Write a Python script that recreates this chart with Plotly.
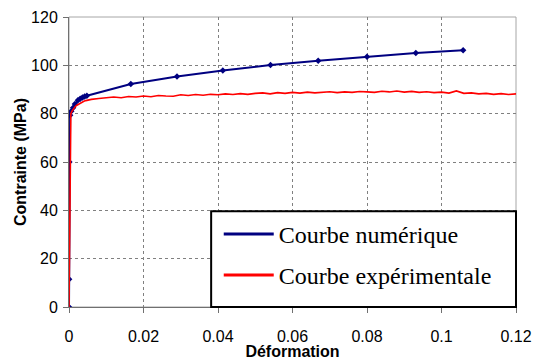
import plotly.graph_objects as go

# Courbe numérique (points de calcul)
num_x = [0, 0.00003, 0.0001, 0.0003, 0.0006, 0.0011, 0.0016, 0.0024, 0.0030, 0.0036,
         0.0042, 0.0048, 0.0166, 0.0290, 0.0413, 0.0541, 0.0669, 0.0800, 0.0931, 0.1058]
num_y = [0, 11.5, 60, 79.3, 81.0, 82.4, 84.0, 85.6, 86.2, 86.7,
         87.1, 87.4, 92.3, 95.4, 97.9, 100.1, 101.9, 103.6, 105.1, 106.2]

# Courbe expérimentale
exp_x = [0, 0.00005, 0.0001, 0.0002, 0.0003, 0.0005, 0.0008, 0.0012, 0.0016, 0.002,
         0.0025, 0.003, 0.0035, 0.004, 0.0045, 0.005,
         0.006, 0.008, 0.010, 0.012, 0.014, 0.016, 0.018, 0.020, 0.022, 0.024,
         0.026, 0.028, 0.030, 0.032, 0.034, 0.036, 0.038, 0.040, 0.042, 0.044,
         0.046, 0.048, 0.050, 0.052, 0.054, 0.056, 0.058, 0.060, 0.062, 0.064,
         0.066, 0.068, 0.070, 0.072, 0.074, 0.076, 0.078, 0.080, 0.082, 0.084,
         0.086, 0.088, 0.090, 0.092, 0.094, 0.096, 0.098, 0.100, 0.102, 0.104,
         0.106, 0.108, 0.110, 0.112, 0.114, 0.116, 0.118, 0.120]
exp_y = [0, 10, 30, 55, 72, 80, 81, 82, 82.8, 83.4,
         83.9, 84.4, 84.8, 85.1, 85.4, 85.6,
         85.9, 86.3, 86.5, 86.9, 86.6, 87.1, 86.9, 87.3, 87.0, 87.5,
         87.3, 87.2, 87.8, 87.5, 87.9, 87.6, 88.0, 87.8, 88.2, 87.9,
         88.3, 88.0, 88.4, 88.6, 88.2, 88.7, 88.4, 88.8, 88.5, 88.9,
         88.6, 88.9, 89.1, 88.7, 89.0, 88.8, 89.2, 89.0, 88.8, 89.3,
         89.0, 89.4, 88.9, 89.2, 88.8, 89.1, 88.7, 88.9, 88.5, 89.4,
         88.4, 88.6, 88.2, 88.4, 88.0, 88.3, 87.9, 88.2]

x_ticks = [0, 0.02, 0.04, 0.06, 0.08, 0.1, 0.12]
x_labels = ["0", "0.02", "0.04", "0.06", "0.08", "0.1", "0.12"]
y_ticks = [0, 20, 40, 60, 80, 100, 120]

NAVY = "#000080"
RED = "#FF0000"

fig = go.Figure()
fig.add_trace(go.Scatter(
    x=num_x, y=num_y, mode="lines+markers", name="Courbe numérique",
    line=dict(color=NAVY, width=2),
    marker=dict(symbol="diamond", size=5, color=NAVY),
    showlegend=False))
fig.add_trace(go.Scatter(
    x=exp_x, y=exp_y, mode="lines", name="Courbe expérimentale",
    line=dict(color=RED, width=1.6),
    showlegend=False))
# legend entries (line only, as in the original)
fig.add_trace(go.Scatter(x=[None], y=[None], mode="lines", name="Courbe numérique",
                         line=dict(color=NAVY, width=3), legendgroup="a"))
fig.add_trace(go.Scatter(x=[None], y=[None], mode="lines", name="Courbe expérimentale",
                         line=dict(color=RED, width=3), legendgroup="b"))

axis_font = dict(family="Liberation Sans, Arial", size=16, color="black")

fig.update_layout(
    width=533, height=360,
    margin=dict(l=69, r=17, t=17, b=53),
    paper_bgcolor="white", plot_bgcolor="white",
    showlegend=True,
    legend=dict(
        x=0.335, y=0.18, xanchor="left", yanchor="middle",
        bgcolor="rgba(0,0,0,0)", borderwidth=0,
        font=dict(family="Liberation Serif, Times New Roman", size=24, color="black"),
        tracegroupgap=7, itemwidth=50,
    ),
    xaxis=dict(
        range=[0, 0.12], tickvals=x_ticks, ticktext=x_labels,
        showgrid=True, gridcolor="#808080", griddash="dot", gridwidth=1,
        zeroline=False, showline=True, linecolor="#707070", linewidth=1,
        ticks="outside", ticklen=5, tickcolor="#707070", ticklabelstandoff=10,
        ticklabeloverflow="allow",
        tickfont=axis_font, automargin=False,
        title=dict(text="<b>Déformation</b>", font=axis_font, standoff=4),
    ),
    yaxis=dict(
        range=[0, 120], tickvals=y_ticks,
        showgrid=True, gridcolor="#808080", griddash="dot", gridwidth=1,
        zeroline=False, showline=True, linecolor="#707070", linewidth=1,
        ticks="outside", ticklen=5, tickcolor="#707070", ticklabelstandoff=2,
        ticklabeloverflow="allow",
        tickfont=axis_font, automargin=False,
        title=dict(text="<b>Contrainte (MPa)</b>", font=axis_font, standoff=0),
    ),
    shapes=[
        dict(type="rect", xref="paper", yref="paper", x0=0, y0=0, x1=1, y1=1,
             line=dict(color="#a6a6a6", width=1), layer="below"),
        dict(type="rect", xref="paper", yref="paper", x0=0.318, y0=0.0, x1=1.0, y1=0.330,
             line=dict(color="black", width=2), fillcolor="white", layer="above"),
    ],
)

fig.write_html(
    "out.html",
    config={"displayModeBar": False},
    post_script="document.body.style.margin='0';"
                "document.documentElement.style.overflow='hidden';",
)
